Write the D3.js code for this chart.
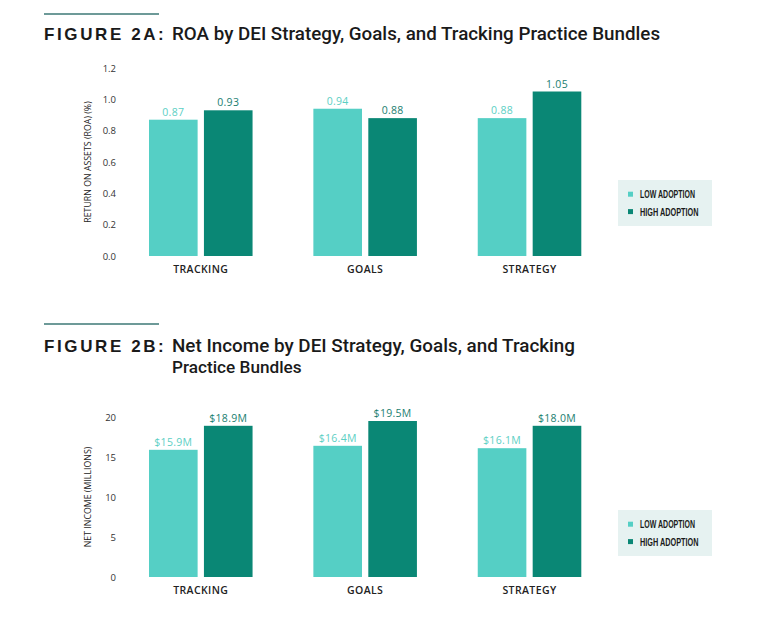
<!DOCTYPE html>
<html><head><meta charset="utf-8">
<script src="https://cdn.jsdelivr.net/npm/d3@7"></script>
<style>body{margin:0;background:#fff}svg{display:block}</style>
</head><body>
<svg id="chart" width="770" height="636"></svg>
<script>
const categories = ["TRACKING", "GOALS", "STRATEGY"];
const seriesNames = ["LOW ADOPTION", "HIGH ADOPTION"];
const roaLow = [0.87, 0.94, 0.88];
const roaHigh = [0.93, 0.88, 1.05];
const roaTicks = [0, 0.2, 0.4, 0.6, 0.8, 1.0, 1.2];
const niLow = [15.9, 16.4, 16.1];
const niHigh = [18.9, 19.5, 18.9];
const niLowLabels = ["$15.9M", "$16.4M", "$16.1M"];
const niHighLabels = ["$18.9M", "$19.5M", "$18.0M"];
const niTicks = [0, 5, 10, 15, 20];

const colors = ["#55cfc5", "#0a8775"];
const labelColors = ["#5ccfc4", "#1a7e70"];
const svg = d3.select("#chart");

function fitText(sel, target) {
  const len = sel.node().getComputedTextLength();
  const fs = +sel.attr("font-size");
  sel.attr("font-size", fs * target / len);
}

function header(y0, fig, lines, titleBaseline, widths) {
  svg.append("line").attr("x1", 44).attr("x2", 159).attr("y1", y0).attr("y2", y0)
    .attr("stroke", "#6d9a98").attr("stroke-width", 2);
  svg.append("text").attr("x", 44).attr("y", titleBaseline)
    .attr("font-family", "Liberation Sans, Arial, sans-serif").attr("font-weight", "bold")
    .attr("font-size", 17).attr("letter-spacing", 2.6).attr("fill", "#1a1a1a")
    .text(fig);
  lines.forEach((t, i) => {
    const tx = svg.append("text").attr("x", 172).attr("y", titleBaseline + i * 21)
      .attr("font-family", "Roboto, sans-serif").attr("font-weight", 500)
      .attr("font-size", 17.2).attr("fill", "#1a1a1a").text(t);
    if (widths[i]) fitText(tx, widths[i]);
  });
}

function panel(cfg) {
  const x0 = d3.scaleBand().domain(categories).range([149, 581.3]).paddingInner(0.37).paddingOuter(0);
  const x1 = d3.scaleBand().domain(seriesNames).range([0, x0.bandwidth()]).paddingInner(0.115);
  const y = d3.scaleLinear().domain(cfg.domain).range([cfg.y0, cfg.y1]);

  const g = svg.append("g");
  const ax = g.append("g").attr("transform", "translate(116,0)")
    .call(d3.axisLeft(y).tickValues(cfg.ticks).tickFormat(cfg.fmt).tickSize(0).tickPadding(0));
  ax.select(".domain").remove();
  ax.selectAll("text").attr("font-family", "Open Sans, sans-serif").attr("font-size", 9.5).attr("fill", "#333");

  g.append("text").attr("transform", `translate(91,${(cfg.y0 + cfg.y1) / 2}) rotate(-90)`)
    .attr("text-anchor", "middle").attr("font-family", "Open Sans, sans-serif")
    .attr("font-size", 8.8).attr("fill", "#222").text(cfg.yTitle);

  const series = [cfg.low, cfg.high];
  const labs = [cfg.lowLabels, cfg.highLabels];
  categories.forEach((c, ci) => {
    seriesNames.forEach((s, si) => {
      const v = series[si][ci];
      const bx = x0(c) + x1(s);
      g.append("rect").attr("x", bx).attr("y", y(v)).attr("width", x1.bandwidth())
        .attr("height", y(0) - y(v)).attr("fill", colors[si]);
      g.append("text").attr("x", bx + x1.bandwidth() / 2).attr("y", y(v) - 4)
        .attr("text-anchor", "middle").attr("font-family", "Open Sans, sans-serif")
        .attr("font-size", 10.5).attr("fill", labelColors[si]).attr("letter-spacing", 0.3)
        .text(labs[si][ci]);
    });
    g.append("text").attr("x", x0(c) + x0.bandwidth() / 2).attr("y", cfg.y0 + 17)
      .attr("text-anchor", "middle").attr("font-family", "Open Sans, sans-serif")
      .attr("font-weight", 600).attr("font-size", 10.5).attr("letter-spacing", 0.4)
      .attr("fill", "#222").text(c);
  });

  const lg = g.append("g").attr("transform", `translate(618,${cfg.legendY})`);
  lg.append("rect").attr("width", 94).attr("height", 46).attr("fill", "#e6f2f1");
  const legW = [55, 58.5];
  seriesNames.forEach((s, i) => {
    lg.append("rect").attr("x", 10).attr("y", 11.7 + i * 17.4).attr("width", 5).attr("height", 5).attr("fill", colors[i]);
    lg.append("text").attr("x", 22).attr("y", 18.4 + i * 17.4)
      .attr("font-family", "Liberation Sans Narrow, sans-serif").attr("font-weight", "bold")
      .attr("font-size", 10.5).attr("fill", "#1a1a1a")
      .attr("textLength", legW[i]).attr("lengthAdjust", "spacingAndGlyphs").text(s);
  });
}

header(14, "FIGURE 2A:", ["ROA by DEI Strategy, Goals, and Tracking Practice Bundles"], 40, [488]);
panel({domain: [0, 1.2], y0: 256, y1: 68, ticks: roaTicks, fmt: d3.format(".1f"),
  yTitle: "RETURN ON ASSETS (ROA) (%)", low: roaLow, high: roaHigh,
  lowLabels: roaLow.map(d3.format(".2f")), highLabels: roaHigh.map(d3.format(".2f")), legendY: 180});

header(324, "FIGURE 2B:", ["Net Income by DEI Strategy, Goals, and Tracking", "Practice Bundles"], 352, [403, null]);
panel({domain: [0, 20], y0: 577, y1: 417, ticks: niTicks, fmt: d3.format("d"),
  yTitle: "NET INCOME (MILLIONS)", low: niLow, high: niHigh,
  lowLabels: niLowLabels, highLabels: niHighLabels, legendY: 510});
</script>
</body></html>
